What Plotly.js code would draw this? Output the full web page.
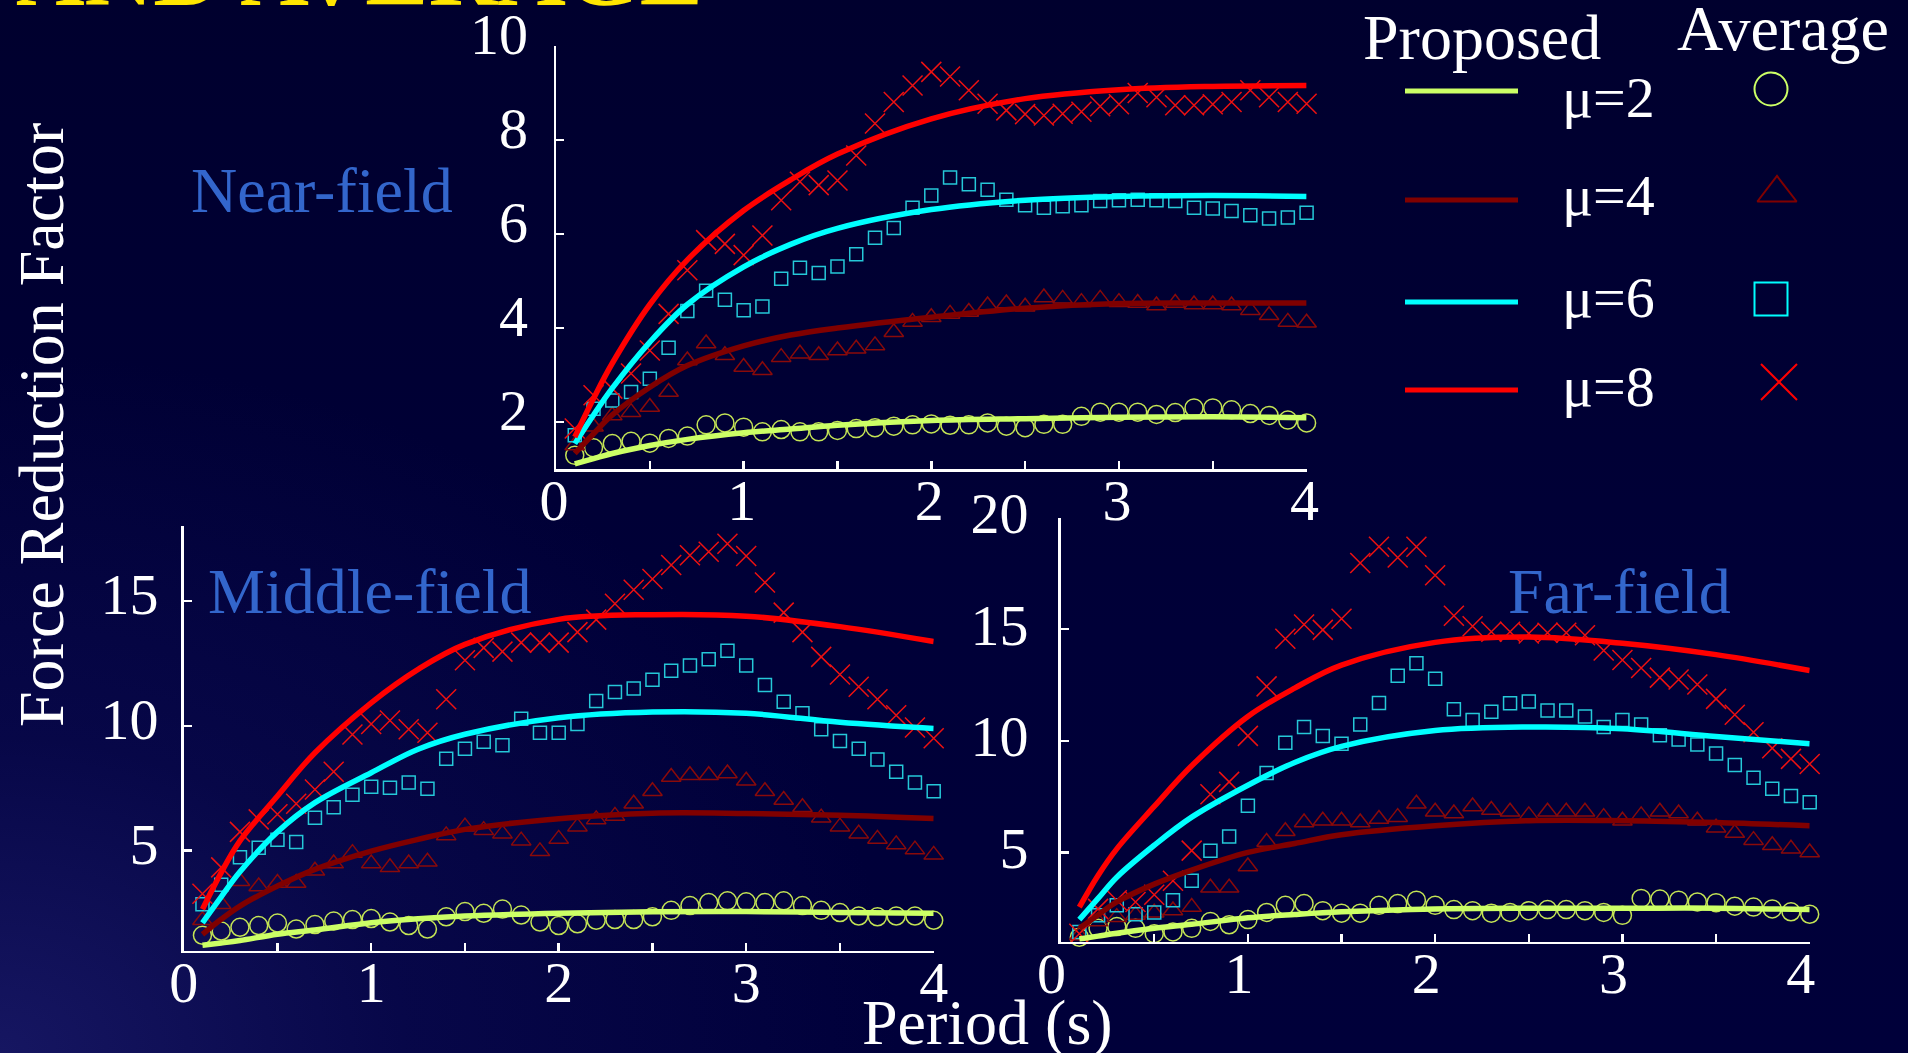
<!DOCTYPE html>
<html>
<head>
<meta charset="utf-8">
<script src="https://cdn.plot.ly/plotly-3.0.1.min.js"></script>
<style>
  html, body { margin: 0; padding: 0; width: 1908px; height: 1053px; overflow: hidden; }
  body {
    background-color: #000034;
    background-image:
      radial-gradient(ellipse 900px 700px at 0% 100%, rgba(40,40,130,0.55) 0%, rgba(20,20,100,0.35) 45%, rgba(0,0,60,0) 100%),
      linear-gradient(to bottom, #00002e 0%, #000038 60%, #00003a 100%);
  }
  #chart { width: 1908px; height: 1053px; }
</style>
</head>
<body>
<div id="chart"></div>
<script>
// ---------------- DATA ----------------
const periods = [0.1,0.2,0.3,0.4,0.5,0.6,0.7,0.8,0.9,1.0,
                 1.1,1.2,1.3,1.4,1.5,1.6,1.7,1.8,1.9,2.0,
                 2.1,2.2,2.3,2.4,2.5,2.6,2.7,2.8,2.9,3.0,
                 3.1,3.2,3.3,3.4,3.5,3.6,3.7,3.8,3.9,4.0];
const linePeriods = [0.1,0.2,0.3,0.5,0.7,1.0,1.25,1.5,2.0,2.5,3.0,3.5,4.0];

const muLabels = ['μ=2','μ=4','μ=6','μ=8'];
const xTickVals = [0,1,2,3,4];
const nearTicks = [2,4,6,8,10];
const midTicks = [5,10,15];
const farTicks = [5,10,15,20];

// Near-field: proposed (lines)
const near_prop_mu2 = [1.11,1.22,1.33,1.50,1.63,1.77,1.85,1.93,2.03,2.07,2.10,2.11,2.09];
const near_prop_mu4 = [1.33,1.75,2.15,2.74,3.20,3.62,3.85,4.00,4.23,4.42,4.52,4.53,4.53];
const near_prop_mu6 = [1.54,2.15,2.72,3.70,4.50,5.30,5.78,6.12,6.52,6.72,6.80,6.82,6.80];
const near_prop_mu8 = [1.68,2.50,3.25,4.50,5.45,6.50,7.15,7.70,8.45,8.88,9.07,9.14,9.16];
// Near-field: average (markers)
const near_avg_mu2 = [1.29,1.45,1.54,1.59,1.55,1.65,1.70,1.94,1.98,1.89,
                      1.79,1.84,1.79,1.79,1.82,1.86,1.88,1.91,1.94,1.96,
                      1.93,1.94,1.98,1.91,1.88,1.95,1.95,2.12,2.21,2.21,
                      2.21,2.16,2.20,2.30,2.30,2.26,2.18,2.14,2.04,1.98];
const near_avg_mu4 = [1.50,1.90,2.14,2.21,2.32,2.64,3.31,3.67,3.42,3.17,
                      3.10,3.38,3.45,3.42,3.52,3.56,3.63,3.91,4.13,4.23,
                      4.30,4.34,4.48,4.52,4.45,4.65,4.62,4.55,4.62,4.55,
                      4.53,4.48,4.53,4.50,4.50,4.48,4.38,4.27,4.13,4.11];
const near_avg_mu6 = [1.72,2.28,2.46,2.64,2.92,3.58,4.36,4.79,4.60,4.38,
                      4.46,5.05,5.28,5.17,5.31,5.57,5.92,6.13,6.56,6.82,
                      7.20,7.06,6.94,6.73,6.61,6.56,6.59,6.61,6.70,6.72,
                      6.73,6.72,6.70,6.56,6.54,6.49,6.40,6.33,6.35,6.45];
const near_avg_mu8 = [1.86,2.57,2.71,3.03,3.52,4.30,5.23,5.87,5.79,5.55,
                      5.97,6.72,7.11,7.04,7.14,7.67,8.35,8.81,9.16,9.45,
                      9.35,9.06,8.77,8.63,8.55,8.52,8.56,8.60,8.72,8.76,
                      9.00,8.91,8.74,8.74,8.76,8.81,9.06,8.91,8.81,8.77];

// Middle-field
const mid_prop_mu2 = [1.21,1.30,1.40,1.65,1.82,2.11,2.27,2.38,2.49,2.55,2.56,2.52,2.49];
const mid_prop_mu4 = [1.65,2.25,2.78,3.58,4.25,4.98,5.45,5.85,6.28,6.50,6.49,6.42,6.29];
const mid_prop_mu6 = [2.11,3.15,4.15,5.75,6.92,8.12,9.06,9.66,10.32,10.55,10.50,10.14,9.89];
const mid_prop_mu8 = [2.65,4.12,5.39,7.19,8.92,10.92,12.26,13.26,14.26,14.45,14.39,13.97,13.37];
const mid_avg_mu2 = [1.61,1.78,1.93,2.00,2.10,1.86,2.04,2.18,2.24,2.28,
                     2.14,2.00,1.86,2.35,2.56,2.49,2.66,2.42,2.14,2.00,
                     2.07,2.21,2.24,2.24,2.35,2.61,2.80,2.92,2.99,2.95,
                     2.92,2.99,2.80,2.61,2.52,2.38,2.35,2.38,2.38,2.21];
const mid_avg_mu4 = [2.21,2.85,3.77,3.56,3.70,3.70,4.19,4.48,4.90,4.48,
                     4.33,4.48,4.55,5.61,5.96,5.82,5.68,5.40,4.97,5.47,
                     5.96,6.25,6.39,6.88,7.38,7.95,8.02,8.02,8.09,7.80,
                     7.38,7.03,6.74,6.32,5.96,5.68,5.47,5.25,5.04,4.83];
const mid_avg_mu6 = [2.85,3.63,4.73,5.11,5.44,5.35,6.32,6.74,7.24,7.56,
                     7.52,7.73,7.48,8.68,9.08,9.36,9.22,10.28,9.72,9.72,
                     10.07,10.99,11.35,11.49,11.84,12.20,12.41,12.66,13.00,12.41,
                     11.63,10.96,10.50,9.86,9.39,9.08,8.65,8.16,7.73,7.38];
const mid_avg_mu8 = [3.27,4.33,5.75,6.25,6.46,6.88,7.45,8.16,9.65,10.07,
                     10.21,9.86,9.72,11.06,12.62,13.12,12.97,13.33,13.33,13.33,
                     13.75,14.25,14.89,15.45,15.88,16.44,16.83,16.97,17.29,16.80,
                     15.74,14.53,13.75,12.76,12.05,11.56,11.06,10.42,9.93,9.50];

// Far-field
const far_prop_mu2 = [1.12,1.25,1.38,1.60,1.78,2.07,2.22,2.34,2.47,2.50,2.50,2.50,2.44];
const far_prop_mu4 = [1.60,2.20,2.78,3.58,4.21,5.00,5.40,5.79,6.19,6.42,6.42,6.34,6.19];
const far_prop_mu6 = [1.99,2.94,3.89,5.32,6.58,8.01,9.03,9.75,10.46,10.62,10.54,10.19,9.87];
const far_prop_mu8 = [2.55,3.97,5.16,7.06,8.88,11.09,12.36,13.39,14.41,14.65,14.37,13.86,13.15];
const far_avg_mu2 = [1.20,1.60,1.68,1.60,1.36,1.44,1.60,1.91,1.76,1.99,
                     2.31,2.63,2.71,2.39,2.28,2.28,2.63,2.71,2.86,2.63,
                     2.44,2.39,2.28,2.31,2.39,2.44,2.44,2.39,2.31,2.18,
                     2.94,2.91,2.86,2.78,2.75,2.59,2.55,2.47,2.34,2.23];
const far_avg_mu4 = [1.28,1.90,2.10,2.20,2.30,2.40,2.55,3.42,3.42,4.37,
                     5.47,5.95,6.34,6.42,6.42,6.34,6.50,6.58,7.18,6.82,
                     6.74,7.06,6.90,6.82,6.66,6.82,6.82,6.82,6.58,6.42,
                     6.66,6.82,6.74,6.42,6.11,5.87,5.55,5.32,5.16,5.00];
const far_avg_mu6 = [1.44,2.18,2.63,2.23,2.31,2.86,3.73,5.08,5.71,7.09,
                     8.56,9.91,10.62,10.22,9.87,10.73,11.69,12.91,13.47,12.78,
                     11.41,10.93,11.30,11.68,11.76,11.36,11.36,11.09,10.62,10.93,
                     10.73,10.25,10.06,9.83,9.43,8.92,8.35,7.85,7.53,7.25];
const far_avg_mu8 = [1.36,2.47,2.86,2.78,3.10,3.73,5.08,7.61,8.16,10.22,
                     12.44,14.57,15.21,14.97,15.47,17.97,18.69,18.21,18.69,17.42,
                     15.60,15.13,14.89,14.89,14.81,14.84,14.84,14.73,14.05,13.62,
                     13.26,12.83,12.75,12.52,11.88,11.17,10.38,9.67,9.19,8.96];

// ---------------- STYLE ----------------
const W = 1908, H = 1053;
const FONT = 'Liberation Serif, Times New Roman, serif';
const lineColors   = ['#ccff66', '#800000', '#00ffff', '#ff0000'];
const markerColors = ['#c4e455', '#8a0a0a', '#25c8d8', '#ee1111'];
const markerSymbols = ['circle-open', 'triangle-up-open', 'square-open', 'x-thin-open'];
const markerSizes = [18, 17, 13, 20];

const panels = [
  { xa: 'x',  ya: 'y',  prop: [near_prop_mu2, near_prop_mu4, near_prop_mu6, near_prop_mu8],
    avg: [near_avg_mu2, near_avg_mu4, near_avg_mu6, near_avg_mu8] },
  { xa: 'x2', ya: 'y2', prop: [mid_prop_mu2, mid_prop_mu4, mid_prop_mu6, mid_prop_mu8],
    avg: [mid_avg_mu2, mid_avg_mu4, mid_avg_mu6, mid_avg_mu8] },
  { xa: 'x3', ya: 'y3', prop: [far_prop_mu2, far_prop_mu4, far_prop_mu6, far_prop_mu8],
    avg: [far_avg_mu2, far_avg_mu4, far_avg_mu6, far_avg_mu8] }
];

const traces = [];
panels.forEach(p => {
  for (let i = 0; i < 4; i++) {
    traces.push({
      type: 'scatter', mode: 'markers', x: periods, y: p.avg[i],
      xaxis: p.xa, yaxis: p.ya, cliponaxis: false, showlegend: false,
      marker: { symbol: markerSymbols[i], size: markerSizes[i], color: markerColors[i],
                line: { color: markerColors[i], width: 1.5 } }
    });
  }
  for (let i = 0; i < 4; i++) {
    traces.push({
      type: 'scatter', mode: 'lines', x: linePeriods, y: p.prop[i],
      xaxis: p.xa, yaxis: p.ya, showlegend: false,
      line: { color: lineColors[i], width: 5.5, shape: 'spline', smoothing: 1 }
    });
  }
});

// custom legend layout (pixel positions of the legend block)
const legendRowsY = [91, 200, 302, 390];
const legendMarkerX = [1771, 1777, 1771, 1779];
const legendMarkerY = [89, 193, 299, 382];
const pxX = v => v / W;
const pxY = v => 1 - v / H;

for (let i = 0; i < 4; i++) {
  traces.push({
    type: 'scatter', mode: 'markers', x: [legendMarkerX[i]], y: [legendMarkerY[i]],
    xaxis: 'x4', yaxis: 'y4', showlegend: false, cliponaxis: false,
    marker: { symbol: markerSymbols[i], size: [33, 34, 33, 36][i], color: lineColors[i],
              line: { color: lineColors[i], width: 2 } }
  });
}

function axisX(domain, anchor, shift) {
  return {
    domain: domain, anchor: anchor, range: [0, 4], fixedrange: true,
    showline: true, linecolor: '#ffffff', linewidth: 2.5,
    showgrid: false, zeroline: false,
    ticks: 'inside', ticklen: 8, tickwidth: 2.5, tickcolor: '#ffffff',
    tickmode: 'array', tickvals: xTickVals, ticktext: xTickVals.map(String),
    minor: { dtick: 0.5, tick0: 0, ticks: 'inside', ticklen: 8, tickwidth: 2.5, tickcolor: '#ffffff', showgrid: false },
    tickfont: { family: FONT, size: 58, color: '#ffffff' },
    ticklabelstandoff: -21, ticklabelshift: shift || 0
  };
}
function axisY(domain, anchor, range, ticks, standoff, shift) {
  return {
    domain: domain, anchor: anchor, range: range, fixedrange: true,
    showline: true, linecolor: '#ffffff', linewidth: 2.5,
    showgrid: false, zeroline: false,
    ticks: 'inside', ticklen: 8, tickwidth: 2.5, tickcolor: '#ffffff',
    tickmode: 'array', tickvals: ticks, ticktext: ticks.map(String),
    tickfont: { family: FONT, size: 58, color: '#ffffff' },
    ticklabelstandoff: standoff, ticklabelshift: shift
  };
}

const shapes = [];
for (let i = 0; i < 4; i++) {
  shapes.push({ type: 'line', xref: 'paper', yref: 'paper',
    x0: pxX(1405), x1: pxX(1518), y0: pxY(legendRowsY[i]), y1: pxY(legendRowsY[i]),
    line: { color: lineColors[i], width: 5 } });
}

function txt(text, x, y, size, color, extra) {
  return Object.assign({ text: text, xref: 'paper', yref: 'paper', x: pxX(x), y: pxY(y),
    xanchor: 'center', yanchor: 'middle', showarrow: false,
    font: { family: FONT, size: size, color: color } }, extra || {});
}

const annotations = [
  txt('AND AVERAGE', 14, 28, 95, '#ffe600', { xanchor: 'left', yanchor: 'bottom',
      font: { family: FONT, size: 95, color: '#ffe600', weight: 'bold' } }),
  txt('Near-field', 322, 191, 64, '#3366cc'),
  txt('Middle-field', 369, 591, 64, '#3366cc'),
  txt('Far-field', 1619, 591, 64, '#3366cc'),
  txt('Force Reduction Factor', 42, 425, 64, '#ffffff', { textangle: -90 }),
  txt('Period (s)', 987, 1022, 64, '#ffffff'),
  txt('Proposed', 1482, 37, 64, '#ffffff'),
  txt('Average', 1783, 28, 64, '#ffffff'),
];
for (let i = 0; i < 4; i++) {
  annotations.push(txt(muLabels[i], 1608, [98, 196, 297, 386][i], 58, '#ffffff'));
}

const layout = {
  width: W, height: H,
  margin: { l: 0, r: 0, t: 0, b: 0, pad: 0 },
  paper_bgcolor: 'rgba(0,0,0,0)', plot_bgcolor: 'rgba(0,0,0,0)',
  showlegend: false,
  font: { family: FONT, color: '#ffffff' },
  xaxis:  axisX([556 / W, 1306.6 / W], 'y', -2),
  yaxis:  axisY([1 - 469 / H, 1 - 46 / H], 'x', [1, 10], nearTicks, 14, -12),
  xaxis2: axisX([183.7 / W, 933.7 / W], 'y2', 0),
  yaxis2: axisY([1 - 950.5 / H, 1 - 526 / H], 'x2', [1, 18], midTicks, 11, -7),
  xaxis3: axisX([1060.6 / W, 1809.7 / W], 'y3', -9),
  yaxis3: axisY([1 - 941.7 / H, 1 - 517.6 / H], 'x3', [1, 20], farTicks, 18, -5),
  xaxis4: { domain: [0, 1], anchor: 'y4', range: [0, W], visible: false, fixedrange: true },
  yaxis4: { domain: [0, 1], anchor: 'x4', range: [H, 0], visible: false, fixedrange: true },
  shapes: shapes,
  annotations: annotations
};

Plotly.newPlot('chart', traces, layout, { staticPlot: true, displayModeBar: false });
</script>
</body>
</html>
